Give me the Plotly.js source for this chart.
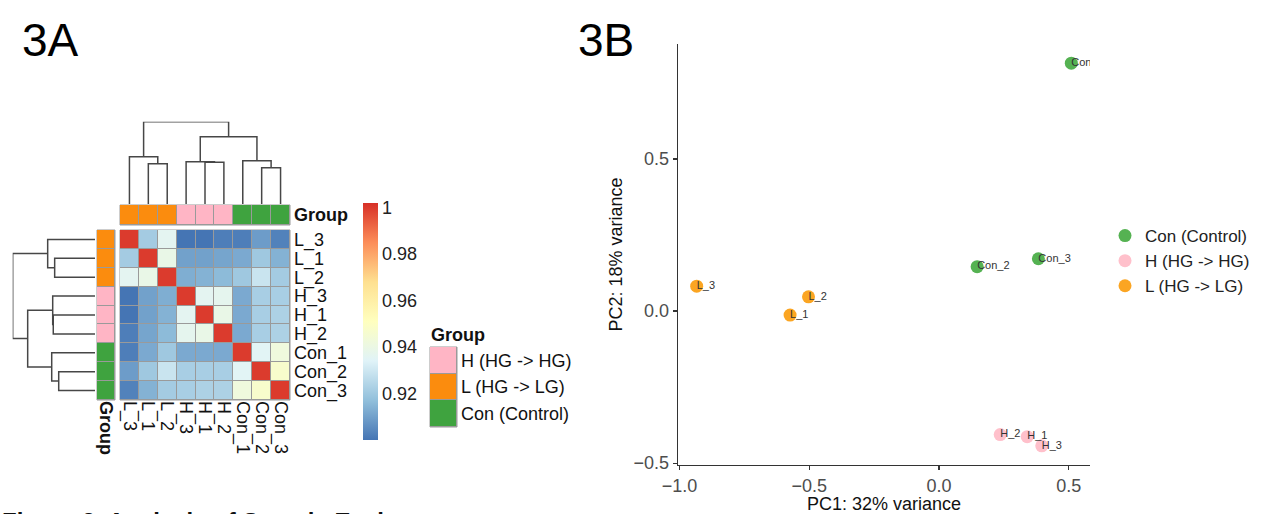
<!DOCTYPE html>
<html>
<head>
<meta charset="utf-8">
<script src="https://cdn.plot.ly/plotly-3.0.1.min.js"></script>
<style>html,body{margin:0;padding:0;background:#fff}#chart{width:1268px;height:514px}</style>
</head>
<body>
<div id="chart"></div>
<script>
// ---------------- DATA ----------------
const sampleOrder = ['L_3','L_1','L_2','H_3','H_1','H_2','Con_1','Con_2','Con_3'];
// sample-to-sample correlation (rows/cols in sampleOrder)
const corrMatrix = [
  [1.000,0.921,0.936,0.900,0.900,0.902,0.902,0.909,0.903],
  [0.921,1.000,0.939,0.910,0.910,0.911,0.912,0.920,0.914],
  [0.936,0.939,1.000,0.913,0.914,0.916,0.920,0.929,0.921],
  [0.900,0.910,0.913,1.000,0.936,0.937,0.912,0.922,0.922],
  [0.900,0.910,0.914,0.936,1.000,0.939,0.912,0.922,0.923],
  [0.902,0.911,0.916,0.937,0.939,1.000,0.912,0.922,0.923],
  [0.902,0.912,0.920,0.912,0.912,0.912,1.000,0.935,0.942],
  [0.909,0.920,0.929,0.922,0.922,0.922,0.935,1.000,0.947],
  [0.903,0.914,0.921,0.922,0.923,0.923,0.942,0.947,1.000]
];
// hierarchical clustering merges: [childA, childB, height]; children are sample names or merge indices
const clusterMerges = [
  ['L_1','L_2',0.490],
  ['L_3',0,0.575],
  ['H_1','H_2',0.507],
  ['H_3',2,0.514],
  ['Con_2','Con_3',0.441],
  ['Con_1',4,0.526],
  [3,5,0.818],
  [1,6,1.000]
];
const groupKeys = ['L','H','Con'];
const groupLabels = {H:'H (HG -> HG)', L:'L (HG -> LG)', Con:'Con (Control)'};
const legendGroupOrder = ['H','L','Con'];
const colorTicks = [0.92,0.94,0.96,0.98,1];
const colorTickText = ['0.92','0.94','0.96','0.98','1'];

// PCA
const pcaCon = {names:['Con_1','Con_2','Con_3'], pc1:[0.510,0.147,0.383], pc2:[0.815,0.146,0.172]};
const pcaH   = {names:['H_1','H_2','H_3'], pc1:[0.340,0.236,0.396], pc2:[-0.413,-0.406,-0.443]};
const pcaL   = {names:['L_1','L_2','L_3'], pc1:[-0.574,-0.503,-0.934], pc2:[-0.013,0.047,0.082]};
const pc1Label = 'PC1: 32% variance';
const pc2Label = 'PC2: 18% variance';

// ---------------- STYLE ----------------
const W = 1268, H = 514;
const X = p => p / W;
const Y = p => 1 - p / H;
const FONT = 'Liberation Sans, Arial, Helvetica, sans-serif';
const annColors = {L:'#FB8C0E', H:'#FFB5C5', Con:'#3FA33F'};
const pcaColors = {Con:'#55B252', H:'#FFC0CB', L:'#FBA522'};
const heatScale = [
  [0,'#4575B4'],[1/6,'#91BFDB'],[2/6,'#E0F3F8'],[3/6,'#FFFFBF'],
  [4/6,'#FEE090'],[5/6,'#FC8D59'],[1,'#D73027']
];
const annScale = [
  [0,annColors.L],[1/3,annColors.L],[1/3,annColors.H],[2/3,annColors.H],[2/3,annColors.Con],[1,annColors.Con]
];
const idx = sampleOrder.map((_, i) => i);
const grp = n => n.split('_')[0];
const code = g => groupKeys.indexOf(g);

// dendrogram segments
function dendro() {
  const pos = {}; sampleOrder.forEach((n, i) => pos[n] = i);
  const nodes = [];
  const get = c => typeof c === 'number' ? nodes[c] : {p: pos[c], h: 0};
  const P = [], Hh = [];
  clusterMerges.forEach(([a, b, h]) => {
    const A = get(a), B = get(b);
    P.push(A.p, A.p, B.p, B.p, null);
    Hh.push(A.h, h, h, B.h, null);
    nodes.push({p: (A.p + B.p) / 2, h: h});
  });
  return {P, Hh};
}
const dd = dendro();

const traces = [];
// main heatmap
traces.push({
  type:'heatmap', x: idx, y: idx, z: corrMatrix, xaxis:'x', yaxis:'y',
  colorscale: heatScale, zmin: 0.9, zmax: 1.002, xgap: 1, ygap: 1, hoverinfo:'skip',
  colorbar: {x: X(363), xanchor:'left', xpad:0, y: Y(321.5), yanchor:'middle', ypad:0,
    len: 237, lenmode:'pixels', thickness: 15, thicknessmode:'pixels', outlinewidth: 0,
    tickvals: colorTicks, ticktext: colorTickText, ticks:'', tickfont:{size:18, color:'#222', family:FONT}}
});
// column annotation
traces.push({type:'heatmap', x: idx, y:[0], z:[sampleOrder.map(n => code(grp(n)))], xaxis:'x2', yaxis:'y2',
  colorscale: annScale, zmin:-0.5, zmax:2.5, showscale:false, xgap:1, ygap:1, hoverinfo:'skip'});
// row annotation
traces.push({type:'heatmap', x:[0], y: idx, z: sampleOrder.map(n => [code(grp(n))]), xaxis:'x3', yaxis:'y',
  colorscale: annScale, zmin:-0.5, zmax:2.5, showscale:false, xgap:1, ygap:1, hoverinfo:'skip'});
// group legend boxes
traces.push({type:'heatmap', x:[0], y:[0,1,2], z: legendGroupOrder.map(g => [code(g)]), xaxis:'x6', yaxis:'y6',
  colorscale: annScale, zmin:-0.5, zmax:2.5, showscale:false, xgap:1, ygap:1, hoverinfo:'skip'});
// dendrograms
traces.push({type:'scatter', mode:'lines', x: dd.P, y: dd.Hh, xaxis:'x4', yaxis:'y4', cliponaxis:false,
  line:{color:'#474747', width:1.5}, showlegend:false, hoverinfo:'skip'});
traces.push({type:'scatter', mode:'lines', x: dd.Hh, y: dd.P, xaxis:'x5', yaxis:'y5', cliponaxis:false,
  line:{color:'#474747', width:1.5}, showlegend:false, hoverinfo:'skip'});
// PCA
[['Con',pcaCon],['H',pcaH],['L',pcaL]].forEach(([g, d]) => {
  traces.push({type:'scatter', mode:'markers', x:d.pc1, y:d.pc2, xaxis:'x7', yaxis:'y7', name: groupLabels[g],
    marker:{size:13, color:pcaColors[g]}, hoverinfo:'skip'});
});
[pcaCon, pcaH, pcaL].forEach(d => {
  traces.push({type:'scatter', mode:'text', x:d.pc1, y:d.pc2, text:d.names, xaxis:'x7', yaxis:'y7',
    textposition:'middle right', textfont:{size:11, color:'#333', family:FONT}, showlegend:false, hoverinfo:'skip'});
});

const base = {showgrid:false, zeroline:false, showline:false, fixedrange:true, ticks:''};
const hidden = Object.assign({}, base, {visible:false});
const tf = {size:18, color:'#111', family:FONT};
const greyRect = (xr, yr) => ({type:'rect', xref: xr + ' domain', yref: yr + ' domain', x0:0, x1:1, y0:0, y1:1,
  fillcolor:'#9a9a9a', line:{color:'#9a9a9a', width:1}, layer:'below'});

const layout = {
  width: W, height: H, margin:{l:0, r:0, t:0, b:0}, paper_bgcolor:'#fff', plot_bgcolor:'rgba(0,0,0,0)',
  font:{family:FONT, color:'#111'}, showlegend:true,
  xaxis: Object.assign({}, base, {domain:[X(120),X(290)], range:[-0.5,8.5], tickvals:idx, ticktext:sampleOrder,
    tickangle:90, tickfont:tf, anchor:'y'}),
  yaxis: Object.assign({}, base, {domain:[Y(400),Y(230)], range:[8.5,-0.5], tickvals:idx, ticktext:sampleOrder,
    side:'right', tickfont:tf, anchor:'x', ticklabelstandoff:3}),
  xaxis2: Object.assign({}, base, {domain:[X(120),X(290)], range:[-0.5,8.5], showticklabels:false, anchor:'y2'}),
  yaxis2: Object.assign({}, base, {domain:[Y(225),Y(205)], range:[-0.5,0.5], tickvals:[0], ticktext:['<b>Group</b>'],
    side:'right', tickfont:tf, anchor:'x2', ticklabelstandoff:3}),
  xaxis3: Object.assign({}, base, {domain:[X(97),X(115)], range:[-0.5,0.5], tickvals:[0], ticktext:['<b>Group</b>'],
    tickangle:90, tickfont:tf, anchor:'y'}),
  xaxis4: Object.assign({}, hidden, {domain:[X(120),X(290)], range:[-0.5,8.5], anchor:'y4'}),
  yaxis4: Object.assign({}, hidden, {domain:[Y(204),Y(121.7)], range:[0,1], anchor:'x4'}),
  xaxis5: Object.assign({}, hidden, {domain:[X(12.7),X(95)], range:[1,0], anchor:'y5'}),
  yaxis5: Object.assign({}, hidden, {domain:[Y(400),Y(230)], range:[8.5,-0.5], anchor:'x5'}),
  xaxis6: Object.assign({}, base, {domain:[X(430),X(457)], range:[-0.5,0.5], showticklabels:false, anchor:'y6'}),
  yaxis6: Object.assign({}, base, {domain:[Y(427),Y(347)], range:[2.5,-0.5], tickvals:[0,1,2],
    ticktext: legendGroupOrder.map(g => groupLabels[g]), side:'right', tickfont:tf, anchor:'x6', ticklabelstandoff:3}),
  xaxis7: {domain:[X(678),X(1090)], range:[-1.006,0.582], anchor:'y7', showgrid:false, zeroline:false, fixedrange:true,
    showline:true, linecolor:'#333', linewidth:1.3, ticks:'outside', ticklen:4, tickwidth:1.3, tickcolor:'#333',
    tick0:0, dtick:0.5, tickformat:'.1f', tickfont:{size:18, color:'#4D4D4D', family:FONT},
    title:{text:pc1Label, font:{size:18, color:'#111', family:FONT}, standoff:4}},
  yaxis7: {domain:[Y(465),Y(44)], range:[-0.506,0.878], anchor:'x7', showgrid:false, zeroline:false, fixedrange:true,
    showline:true, linecolor:'#333', linewidth:1.3, ticks:'outside', ticklen:4, tickwidth:1.3, tickcolor:'#333',
    tick0:0, dtick:0.5, tickformat:'.1f', tickfont:{size:18, color:'#4D4D4D', family:FONT},
    title:{text:pc2Label, font:{size:18, color:'#111', family:FONT}, standoff:6}},
  legend:{x:X(1105), xanchor:'left', y:Y(218), yanchor:'top', font:{size:17, color:'#222', family:FONT},
    itemsizing:'trace', tracegroupgap:0, bgcolor:'rgba(0,0,0,0)'},
  shapes:[greyRect('x','y'), greyRect('x2','y2'), greyRect('x3','y'), greyRect('x6','y6')],
  annotations:[
    {text:'3A', xref:'paper', yref:'paper', x:X(20), y:Y(40), xanchor:'left', yanchor:'middle', showarrow:false,
     font:{size:46, color:'#000', family:FONT}},
    {text:'3B', xref:'paper', yref:'paper', x:X(576), y:Y(40), xanchor:'left', yanchor:'middle', showarrow:false,
     font:{size:46, color:'#000', family:FONT}},
    {text:'<b>Group</b>', xref:'paper', yref:'paper', x:X(429), y:Y(335), xanchor:'left', yanchor:'middle', showarrow:false,
     font:{size:18, color:'#111', family:FONT}},
    {text:'<b>Figure 3. Analysis of Sample Eval</b>', xref:'paper', yref:'paper', x:X(0), y:Y(505.5), xanchor:'left', yanchor:'top',
     showarrow:false, font:{size:24, color:'#111', family:FONT}}
  ]
};

Plotly.newPlot('chart', traces, layout, {staticPlot:true, displayModeBar:false});
</script>
</body>
</html>
